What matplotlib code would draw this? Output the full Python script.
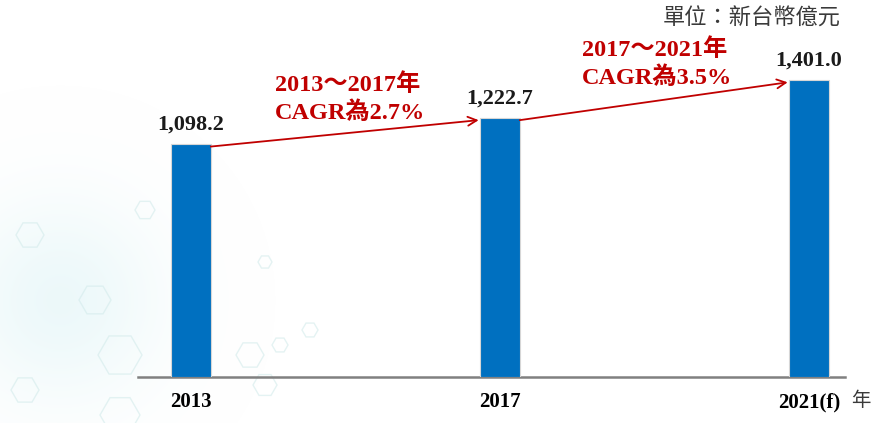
import matplotlib
matplotlib.use("Agg")
import matplotlib.pyplot as plt
from matplotlib.patches import RegularPolygon
import numpy as np

# ---- data ----
categories = ["2013", "2017", "2021(f)"]
values = [1098.2, 1222.7, 1401.0]
value_labels = ["1,098.2", "1,222.7", "1,401.0"]
cagr_labels = ["2013～2017年\nCAGR為2.7%", "2017～2021年\nCAGR為3.5%"]
unit_label = "單位：新台幣億元"
year_suffix = "年"

W, H = 873, 423
fig = plt.figure(figsize=(W / 100, H / 100), dpi=100)
fig.patch.set_facecolor("white")

# faint decorative background (hexagon watermark)
bg = fig.add_axes([0, 0, 1, 1], zorder=0)
bg.set_xlim(0, W)
bg.set_ylim(H, 0)
bg.axis("off")
yy, xx = np.mgrid[0:H, 0:W]
blob = np.exp(-(((xx - 60) / 100.0) ** 2 + ((yy - 300) / 100.0) ** 2))
rgba = np.zeros((H, W, 4))
rgba[..., 0] = 0.82
rgba[..., 1] = 0.94
rgba[..., 2] = 0.95
rgba[..., 3] = 0.4 * blob
bg.imshow(rgba, extent=(0, W, H, 0), aspect="auto", interpolation="bilinear")
hexes = [(30, 235, 14), (120, 355, 22), (95, 300, 16), (145, 210, 10), (250, 355, 14),
         (280, 345, 8), (310, 330, 8), (265, 262, 7), (120, 415, 20), (25, 390, 14),
         (265, 385, 12)]
for hx, hy, r in hexes:
    bg.add_patch(RegularPolygon((hx, hy), 6, radius=r, orientation=np.pi / 6,
                                fill=False, ec="#d3ebeb", lw=1.0, alpha=0.6))

# ---- main axes ----
left_px, right_px, base_px = 138, 845, 377
ax = fig.add_axes([left_px / W, (H - base_px) / H, (right_px - left_px) / W, base_px / H], zorder=1)
ax.patch.set_alpha(0)

x = np.arange(len(categories))
bar_w = 0.128
ax.bar(x, values, width=bar_w, color="#0070C0", edgecolor="#d6d6d6", linewidth=0.8, zorder=3)

ax.set_xlim(-0.1715, 2.1165)
ax.set_ylim(0, 1777)
for s in ["top", "left", "right"]:
    ax.spines[s].set_visible(False)
ax.spines["bottom"].set_color("#808080")
ax.spines["bottom"].set_linewidth(1.8)
ax.set_yticks([])
ax.set_xticks(x)
ax.set_xticklabels(categories, fontsize=15, fontweight="bold", family="Liberation Serif")
ax.tick_params(axis="x", length=0, pad=11)

serif_cjk = ["Liberation Serif", "Noto Sans CJK TC"]

# value labels
for xi, v, lab in zip(x, values, value_labels):
    ax.annotate(lab, (xi, v), xytext=(0, 14), textcoords="offset points",
                ha="center", va="center", fontsize=16, fontweight="bold",
                family="Liberation Serif", color="#1a1a1a")

# CAGR arrows
red = "#C00000"
off = 12
for i in range(len(values) - 1):
    ax.annotate("", xy=(x[i + 1] - bar_w / 2 - 0.005, values[i + 1] - off),
                xytext=(x[i] + bar_w / 2, values[i] - off),
                arrowprops=dict(arrowstyle="->", color=red, lw=1.3, mutation_scale=16,
                                shrinkA=0, shrinkB=0), zorder=4)

# CAGR texts
cagr_pos = [(275, 99), (582, 64)]
for (px, py), lab in zip(cagr_pos, cagr_labels):
    fig.text(px / W, 1 - py / H, lab, ha="left", va="center", fontsize=17.5,
             fontweight="bold", family=serif_cjk, color=red, linespacing=1.3, zorder=5)

# unit label and year suffix
fig.text(841 / W, 1 - 18 / H, unit_label, ha="right", va="center", fontsize=16,
         family=["Noto Sans CJK TC", "DejaVu Sans"], color="#3a3a3a")
fig.text(861 / W, 1 - 400 / H, year_suffix, ha="center", va="center", fontsize=14,
         family=["Noto Sans CJK TC", "DejaVu Sans"], color="#3a3a3a")

fig.savefig("out.png", dpi=100)
